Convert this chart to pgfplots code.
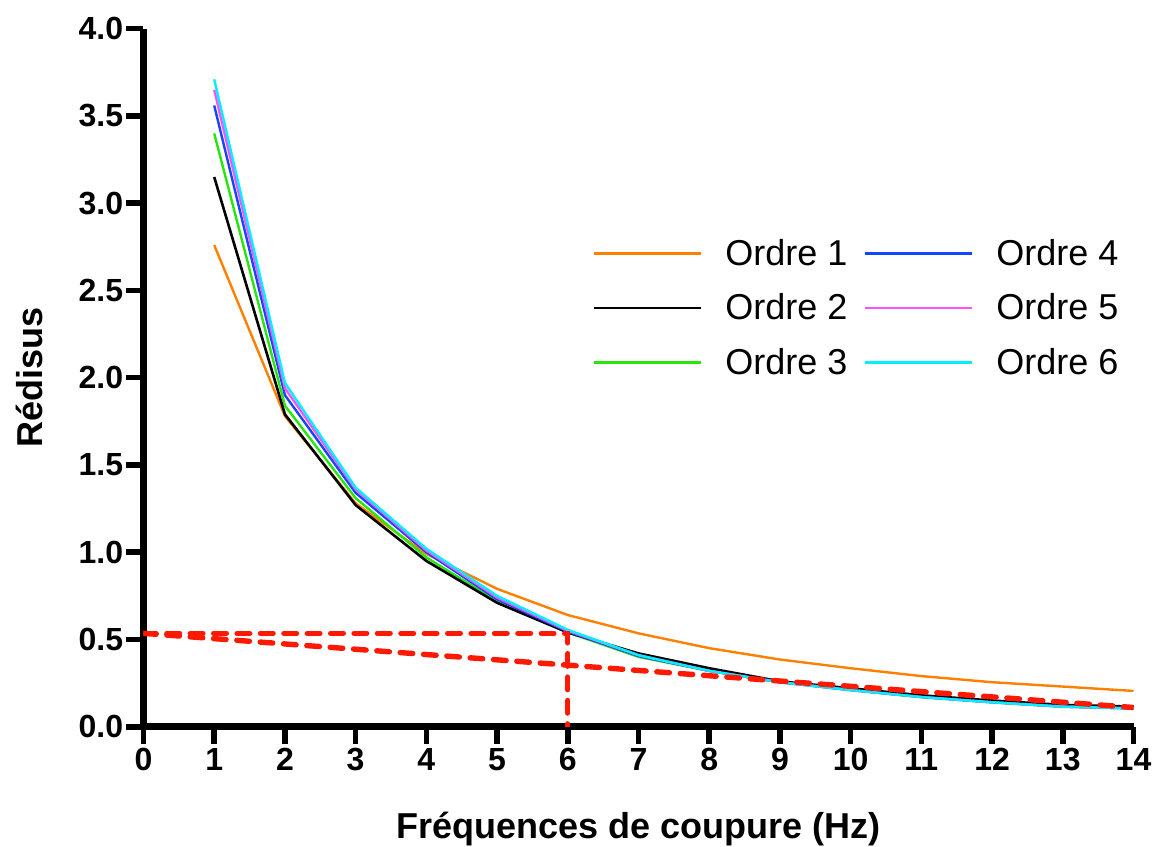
\documentclass[border=0pt]{standalone}
\usepackage{fontspec}
\setmainfont{Liberation Sans}
\usepackage{pgfplots}
\pgfplotsset{compat=1.18}
\usepackage{pgfplotstable}

\definecolor{cOne}{RGB}{255,128,0}
\definecolor{cTwo}{RGB}{0,0,0}
\definecolor{cThree}{RGB}{40,230,10}
\definecolor{cFour}{RGB}{20,70,255}
\definecolor{cFive}{RGB}{255,80,255}
\definecolor{cSix}{RGB}{0,240,255}
\definecolor{cRed}{RGB}{255,25,0}

\pgfplotstableread{
x  o1    o2    o3    o4    o5    o6
1  2.76  3.15  3.40  3.56  3.65  3.71
2  1.78  1.79  1.84  1.90  1.94  1.97
3  1.28  1.27  1.31  1.34  1.36  1.37
4  0.99  0.95  0.97  1.00  1.01  1.02
5  0.79  0.71  0.72  0.73  0.74  0.75
6  0.64  0.54  0.54  0.545 0.55  0.555
7  0.535 0.42  0.40  0.405 0.41  0.41
8  0.45  0.335 0.32  0.32  0.32  0.32
9  0.385 0.26  0.255 0.255 0.255 0.255
10 0.335 0.22  0.21  0.21  0.21  0.21
11 0.29  0.18  0.17  0.17  0.17  0.17
12 0.255 0.15  0.14  0.14  0.14  0.14
13 0.23  0.125 0.115 0.115 0.115 0.115
14 0.205 0.115 0.105 0.105 0.105 0.105
}\datatable

\begin{document}
\begin{tikzpicture}
\useasboundingbox (-71.75pt,-59.75pt) rectangle (506.75pt,363.35pt);
\begin{axis}[
  scale only axis,
  width=495pt, height=349pt,
  xmin=0, xmax=14, ymin=0, ymax=4,
  xtick={0,1,...,14},
  ytick={0,0.5,...,4},
  axis x line=bottom, axis y line=left,
  axis line style={-},
  x axis line style={line width=3.4pt},
  y axis line style={line width=3.4pt},
  tick align=outside,
  major tick length=8.5pt,
  tick style={line width=2.8pt, black},
  /pgf/number format/assume math mode=true,
  ticklabel style={font=\fontsize{16}{16}\selectfont\bfseries},
  yticklabel style={/pgf/number format/.cd, fixed, fixed zerofill, precision=1, /tikz/.cd, inner xsep=1.5pt},
  xticklabel style={inner ysep=2pt},
  xlabel={Fréquences de coupure (Hz)},
  ylabel={Rédisus},
  label style={font=\fontsize{18}{18}\selectfont\bfseries},
  xlabel style={at={(axis description cs:0.5,-0.146)}, anchor=center},
  ylabel style={at={(axis description cs:-0.1155,0.5)}, anchor=center},
  legend columns=2,
  legend style={
    draw=none, fill=none, inner sep=0pt,
    at={(axis description cs:0.453,0.6986)}, anchor=north west,
    font=\fontsize{18}{18}\selectfont,
    row sep=10.25pt,
    nodes={inner sep=0pt, text height=13pt, text depth=4pt},
    /tikz/every odd column/.append style={column sep=11.8pt},
    /tikz/every even column/.append style={column sep=8pt},
  },
  legend cell align=left,
  legend image code/.code={\draw[#1, line width=1.2pt] (0pt,1.5pt) -- (53.5pt,1.5pt);},
]
\addplot[cOne, line width=1.2pt, forget plot] table[x=x, y=o1] {\datatable};
\addplot[cThree, line width=1.2pt, forget plot] table[x=x, y=o3] {\datatable};
\addplot[cTwo, line width=1.3pt, forget plot] table[x=x, y=o2] {\datatable};
\addplot[cFour, line width=1.2pt, forget plot] table[x=x, y=o4] {\datatable};
\addplot[cFive, line width=1.2pt, forget plot] table[x=x, y=o5] {\datatable};
\addplot[cSix, line width=1.2pt, forget plot] table[x=x, y=o6] {\datatable};
\addplot[cRed, line width=2.7pt, line cap=round, dash pattern=on 6.3pt off 5.4pt, forget plot] coordinates {(0,0.535) (6,0.535) (6,0)};
\addplot[cRed, line width=2.7pt, line cap=round, dash pattern=on 6.3pt off 5.4pt, forget plot] coordinates {(0,0.535) (14,0.11)};
\addlegendimage{cOne}\addlegendentry{Ordre 1}
\addlegendimage{cFour}\addlegendentry{Ordre 4}
\addlegendimage{cTwo}\addlegendentry{Ordre 2}
\addlegendimage{cFive}\addlegendentry{Ordre 5}
\addlegendimage{cThree}\addlegendentry{Ordre 3}
\addlegendimage{cSix}\addlegendentry{Ordre 6}
\end{axis}
\end{tikzpicture}
\end{document}
